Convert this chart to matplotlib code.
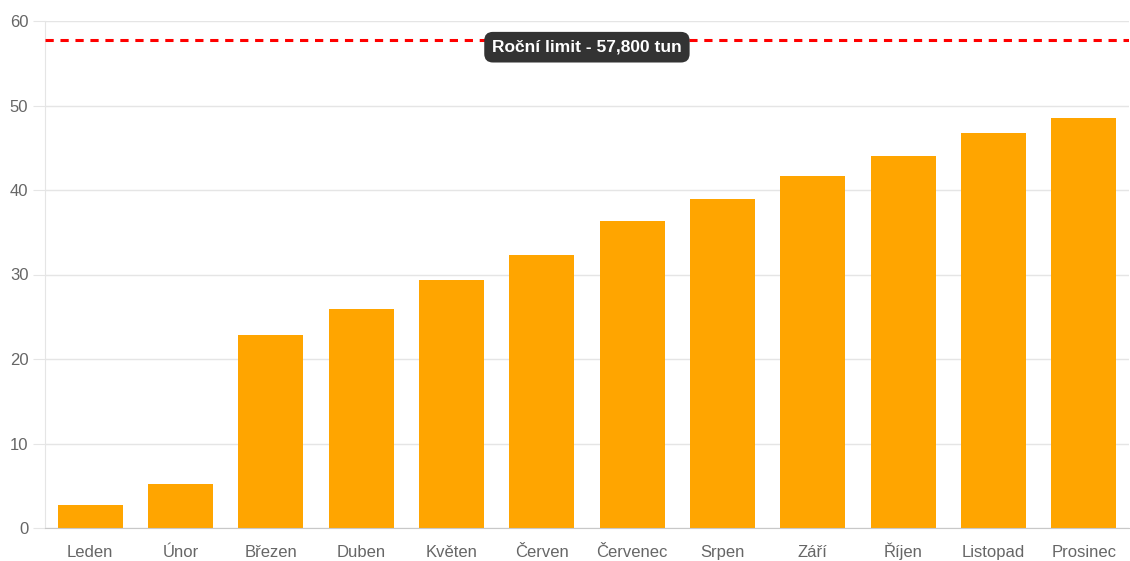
import matplotlib
matplotlib.use("Agg")
import matplotlib.pyplot as plt
import matplotlib.transforms as mtransforms

months = ["Leden", "Únor", "Březen", "Duben", "Květen", "Červen",
          "Červenec", "Srpen", "Září", "Říjen", "Listopad", "Prosinec"]
values = [2.7, 5.2, 22.8, 25.9, 29.3, 32.3, 36.3, 38.9, 41.6, 44.0, 46.8, 48.5]
limit = 57.8
limit_label = "Roční limit - 57,800 tun"
yticks = [0, 10, 20, 30, 40, 50, 60]

plt.rcParams['font.family'] = ['Liberation Sans', 'DejaVu Sans']

fig = plt.figure(figsize=(11.3, 5.61), dpi=100)
ax = fig.add_axes([45 / 1130, 33 / 561, 1 - 45 / 1130 - 0.001, 507 / 561])

x = range(len(months))
ax.bar(x, values, width=0.72, color="#ffa500", zorder=2)

ax.set_xlim(-0.5, len(months) - 0.5)
ax.set_ylim(0, 60)
ax.set_yticks(yticks)
ax.set_xticks(list(x))
ax.set_xticklabels(months)

ax.grid(axis="y", color="#e5e5e5", linewidth=1, zorder=0)
ax.tick_params(axis="y", length=9, color="#e5e5e5", labelcolor="#666666",
               labelsize=12, pad=3)
ax.tick_params(axis="x", length=0, labelcolor="#666666", labelsize=12, pad=21)
for lab in ax.get_xticklabels():
    lab.set_verticalalignment("baseline")

for side in ["top", "right"]:
    ax.spines[side].set_visible(False)
ax.spines["left"].set_color("#e5e5e5")
ax.spines["bottom"].set_color("#c8c8c8")

ax.axhline(limit, color="#ff0000", linewidth=2.2, linestyle=(0, (2.7, 2.2)), zorder=3)

trans = mtransforms.blended_transform_factory(ax.transAxes, ax.transData)
ax.text(0.5, 56.9, limit_label, transform=trans, ha="center", va="center",
        color="white", fontsize=12.5, fontweight="bold", zorder=4,
        bbox=dict(boxstyle="round,pad=0.45,rounding_size=0.5",
                  facecolor="#333333", edgecolor="none"))

fig.savefig("out.png", dpi=100)
